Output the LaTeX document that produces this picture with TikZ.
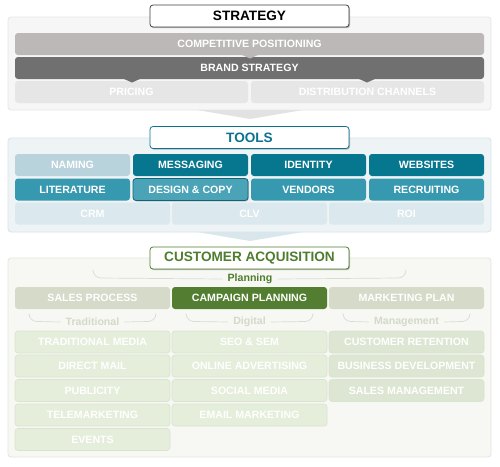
\documentclass[tikz,border=0pt]{standalone}
\usepackage{fontspec}
\setmainfont{Liberation Sans}
\usetikzlibrary{shadows}
\definecolor{spanel}{HTML}{F6F6F6}
\definecolor{sborder}{HTML}{E6E6E6}
\definecolor{cpcol}{HTML}{BCB8B7}
\definecolor{bscol}{HTML}{707070}
\definecolor{prcol}{HTML}{E6E6E6}
\definecolor{tpanel}{HTML}{EEF4F6}
\definecolor{tborder}{HTML}{D6E4E9}
\definecolor{namcol}{HTML}{B9D3DC}
\definecolor{tdark}{HTML}{07768F}
\definecolor{tmid}{HTML}{3799B0}
\definecolor{tdes}{HTML}{4AA3B6}
\definecolor{tdesb}{HTML}{0F6578}
\definecolor{tlight}{HTML}{DBE8ED}
\definecolor{ttext}{HTML}{0A7390}
\definecolor{cpanel}{HTML}{F7F8F4}
\definecolor{cborder}{HTML}{E3E6DC}
\definecolor{gsales}{HTML}{D5DAC9}
\definecolor{gcamp}{HTML}{537E32}
\definecolor{gtext}{HTML}{4F7D2E}
\definecolor{gsub}{HTML}{D4D9C8}
\definecolor{gbox}{HTML}{E5EEDB}
\definecolor{gboxb}{HTML}{D9E3CF}
\definecolor{gmgmt}{HTML}{DDE6D2}
\definecolor{arr1}{HTML}{E2E2E2}
\definecolor{arr2}{HTML}{D9E7EC}
\tikzset{
  panel/.style={draw, rounded corners=3pt, line width=0.8pt},
  cell/.style={rounded corners=3pt, text=white, font=\fontsize{10.6}{12}\selectfont\bfseries, inner sep=0pt, minimum height=22pt},
  w4/.style={cell, minimum width=115pt},
  w3/.style={cell, minimum width=155pt},
  w2/.style={cell, minimum width=233pt},
  w1/.style={cell, minimum width=469pt},
  titlebox/.style={draw, fill=white, rounded corners=3pt, line width=0.8pt, minimum width=199pt, minimum height=22pt, inner sep=0pt, font=\fontsize{13.6}{15}\selectfont\bfseries, drop shadow={shadow xshift=1pt, shadow yshift=-1.2pt, opacity=0.45, fill=black!60}},
  gcell/.style={w3, fill=gbox, draw=gboxb, line width=0.6pt},
  sublabel/.style={font=\fontsize{10.6}{12}\selectfont\bfseries, text=gsub, inner sep=1pt},
  bracket/.style={draw=cborder!90!gray, line width=0.7pt}
}
\begin{document}
\begin{tikzpicture}[x=1pt,y=-1pt]
\useasboundingbox (0,0) rectangle (500,466);
% ---------------- STRATEGY ----------------
\draw[panel, fill=spanel, draw=sborder] (8,17) rectangle (491,110);
\fill[arr1] (197,110) -- (303,110) -- (250,119) -- cycle;
\node[w1, fill=cpcol] (cp) at (249.5,44) {COMPETITIVE POSITIONING};
\node[w1, fill=bscol] (bs) at (249.5,68) {BRAND STRATEGY};
\fill[cpcol] (241,54.5) -- (259,54.5) -- (250,58.5) -- cycle;
\node[w2, fill=prcol] (pr) at (131.5,92) {PRICING};
\node[w2, fill=prcol] (dc) at (367.5,92) {DISTRIBUTION CHANNELS};
\fill[bscol] (123,78.5) -- (141,78.5) -- (132,82.5) -- cycle;
\fill[bscol] (358,78.5) -- (376,78.5) -- (367,82.5) -- cycle;
\node[titlebox, draw=black!75, text=black] (st) at (249.5,16) {STRATEGY};
% ---------------- TOOLS ----------------
\draw[panel, fill=tpanel, draw=tborder] (8,138) rectangle (491,232);
\fill[arr2] (197,232) -- (303,232) -- (250,241) -- cycle;
\node[w4, fill=namcol] (nam) at (72.5,165) {NAMING};
\node[w4, fill=tdark] (mes) at (190.5,165) {MESSAGING};
\node[w4, fill=tdark] (ide) at (308.5,165) {IDENTITY};
\node[w4, fill=tdark] (web) at (426.5,165) {WEBSITES};
\node[w4, fill=tmid] (lit) at (72.5,189.5) {LITERATURE};
\node[w4, fill=tmid] (ven) at (308.5,189.5) {VENDORS};
\node[w4, fill=tmid] (rec) at (426.5,189.5) {RECRUITING};
\node[w4, fill=tdes, draw=tdesb, line width=0.8pt, drop shadow={shadow xshift=0.8pt, shadow yshift=-1pt, opacity=0.4}] (des) at (190.5,189.5) {DESIGN \& COPY};
\node[w3, fill=tlight] (crm) at (92.5,213.5) {CRM};
\node[w3, fill=tlight] (clv) at (249.5,213.5) {CLV};
\node[w3, fill=tlight] (roi) at (406.5,213.5) {ROI};
\node[titlebox, draw=ttext, text=ttext] (to) at (249.5,137.5) {TOOLS};
% ---------------- CUSTOMER ACQUISITION ----------------
\draw[panel, fill=cpanel, draw=cborder] (8,258) rectangle (491,457);
\node[font=\fontsize{10.6}{12}\selectfont\bfseries, text=gtext, inner sep=1pt] (plan) at (250,279) {Planning};
\draw[bracket] (plan.west) ++(-4pt,0) -- (101,278) arc[start angle=90, end angle=180, radius=8] -- ++(0,0.5);
\draw[bracket] (plan.east) ++(4pt,0) -- (398,278) arc[start angle=90, end angle=0, radius=8] -- ++(0,0.5);
\node[w3, fill=gsales] (sp) at (92.5,298) {SALES PROCESS};
\node[w3, fill=gcamp] (camp) at (249.5,298) {CAMPAIGN PLANNING};
\node[w3, fill=gsales] (mp) at (406.5,298) {MARKETING PLAN};
% sub labels
\node[sublabel] (trad) at (92.5,322) {Traditional};
\draw[bracket] (trad.west) ++(-4pt,0) -- (37,321.5) arc[start angle=90, end angle=180, radius=8] -- ++(0,0.5);
\draw[bracket] (trad.east) ++(4pt,0) -- (148,321.5) arc[start angle=90, end angle=0, radius=8] -- ++(0,0.5);
\node[sublabel] (dig) at (249.5,322) {Digital};
\draw[bracket] (dig.west) ++(-4pt,0) -- (194,321.5) arc[start angle=90, end angle=180, radius=8] -- ++(0,0.5);
\draw[bracket] (dig.east) ++(4pt,0) -- (305,321.5) arc[start angle=90, end angle=0, radius=8] -- ++(0,0.5);
\node[sublabel] (man) at (406.5,322) {Management};
\draw[bracket] (man.west) ++(-4pt,0) -- (351,321.5) arc[start angle=90, end angle=180, radius=8] -- ++(0,0.5);
\draw[bracket] (man.east) ++(4pt,0) -- (462,321.5) arc[start angle=90, end angle=0, radius=8] -- ++(0,0.5);
% traditional column
\node[gcell] (tm) at (92.5,342) {TRADITIONAL MEDIA};
\node[gcell] (dm) at (92.5,366) {DIRECT MAIL};
\node[gcell] (pub) at (92.5,390.5) {PUBLICITY};
\node[gcell] (tel) at (92.5,415) {TELEMARKETING};
\node[gcell] (ev) at (92.5,439.5) {EVENTS};
% digital column
\node[gcell] (seo) at (249.5,342) {SEO \& SEM};
\node[gcell] (oa) at (249.5,366) {ONLINE ADVERTISING};
\node[gcell] (sm) at (249.5,390.5) {SOCIAL MEDIA};
\node[gcell] (em) at (249.5,415) {EMAIL MARKETING};
% management column
\node[gcell, fill=gmgmt] (cr) at (406.5,342) {CUSTOMER RETENTION};
\node[gcell, fill=gmgmt] (bd) at (406.5,366) {BUSINESS DEVELOPMENT};
\node[gcell, fill=gmgmt] (smg) at (406.5,390.5) {SALES MANAGEMENT};
\node[titlebox, draw=gtext, text=gtext] (ca) at (249.5,258) {CUSTOMER ACQUISITION};
\end{tikzpicture}
\end{document}
